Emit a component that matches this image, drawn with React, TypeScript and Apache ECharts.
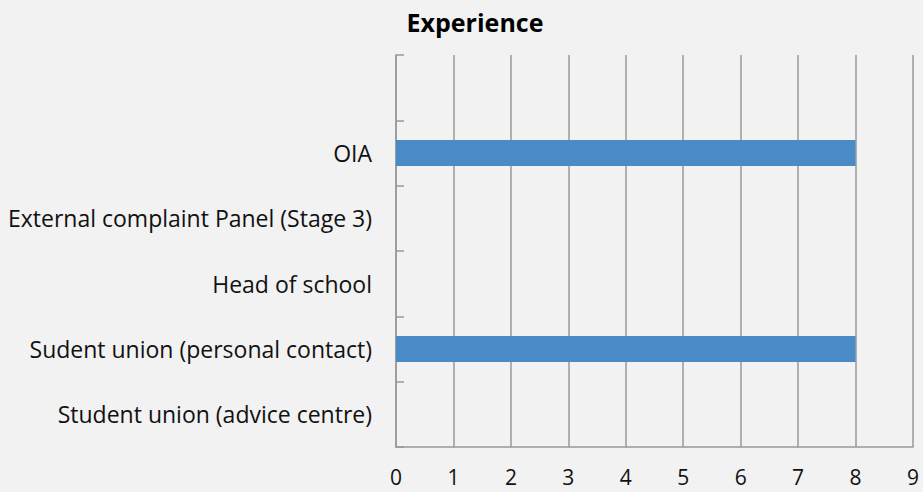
import React, { useEffect, useRef } from "react";
import * as echarts from "echarts";

const categories = [
  "Student union (advice centre)",
  "Sudent union (personal contact)",
  "Head of school",
  "External complaint Panel (Stage 3)",
  "OIA",
  "",
];
const values = [0, 8, 0, 0, 8, 0];
const xTicks = [0, 1, 2, 3, 4, 5, 6, 7, 8, 9];

export default function App() {
  const ref = useRef<HTMLDivElement>(null);
  useEffect(() => {
    const chart = echarts.init(ref.current!, null, { renderer: "svg" });
    chart.setOption({
      animation: false,
      backgroundColor: "#f2f2f2",
      textStyle: { fontFamily: "Open Sans" },
      title: {
        text: "Experience",
        left: 470,
        textAlign: "center",
        top: 4,
        textStyle: { fontSize: 25, fontWeight: "bold", color: "#000", fontFamily: "Open Sans" },
      },
      grid: { left: 396, right: 10, top: 55, bottom: 45, containLabel: false },
      xAxis: {
        type: "value",
        min: xTicks[0],
        max: xTicks[xTicks.length - 1],
        interval: 1,
        axisLine: { show: true, lineStyle: { color: "#999", width: 1.5 } },
        axisTick: { show: false },
        splitLine: { show: true, lineStyle: { color: "#999", width: 1.5 } },
        axisLabel: { color: "#111", fontSize: 21, margin: 19, fontFamily: "Open Sans" },
      },
      yAxis: {
        type: "category",
        data: categories,
        axisLine: { show: true, lineStyle: { color: "#999", width: 1.5 } },
        axisTick: { show: true, inside: true, length: 8, lineStyle: { color: "#999", width: 1.5 } },
        axisLabel: { color: "#111", fontSize: 23, margin: 24, fontFamily: "Open Sans" },
        splitLine: { show: false },
      },
      series: [
        {
          type: "bar",
          data: values,
          barWidth: 26,
          itemStyle: { color: "#4a8bc7" },
        },
      ],
    });
    return () => chart.dispose();
  }, []);
  return <div ref={ref} style={{ width: 923, height: 492, position: "absolute", left: 0, top: 0 }} />;
}
